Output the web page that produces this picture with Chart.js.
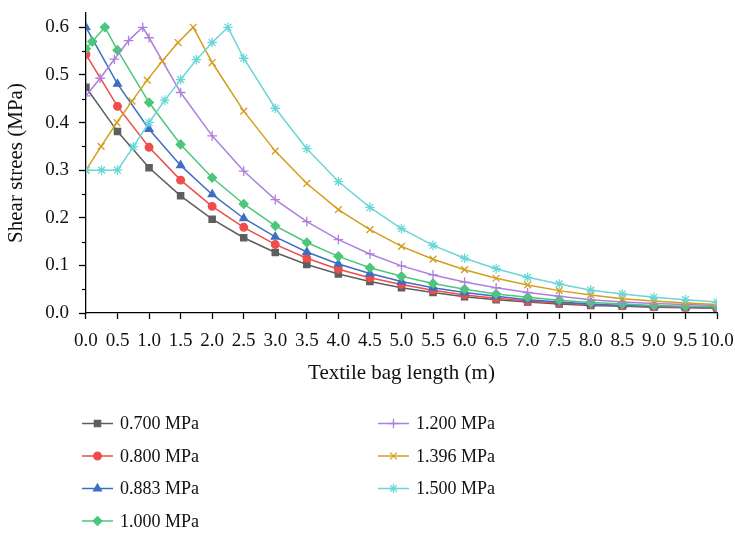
<!DOCTYPE html>
<html>
<head>
<meta charset="utf-8">
<script src="https://cdn.jsdelivr.net/npm/chart.js@4/dist/chart.umd.min.js"></script>
<style>
  html, body { margin: 0; padding: 0; background: #fff; }
  #wrap { width: 735px; height: 537px; position: relative; }
</style>
</head>
<body>
<div id="wrap"><canvas id="chart"></canvas></div>
<script>
// series labels
const seriesLabels = ['0.700 MPa', '0.800 MPa', '0.883 MPa', '1.000 MPa', '1.200 MPa', '1.396 MPa', '1.500 MPa'];

// common x positions for the decay part (m)
const xDecay = [0.5, 1.0, 1.5, 2.0, 2.5, 3.0, 3.5, 4.0, 4.5, 5.0, 5.5, 6.0, 6.5, 7.0, 7.5, 8.0, 8.5, 9.0, 9.5, 10.0];

const x070 = [0.0].concat(xDecay);
const y070 = [0.474, 0.381, 0.305, 0.246, 0.197, 0.158, 0.127, 0.102, 0.082, 0.066, 0.053, 0.043, 0.034, 0.028, 0.023, 0.019, 0.016, 0.014, 0.012, 0.011, 0.010];

const x080 = [0.0].concat(xDecay);
const y080 = [0.543, 0.434, 0.348, 0.279, 0.224, 0.180, 0.144, 0.115, 0.092, 0.074, 0.060, 0.048, 0.038, 0.031, 0.025, 0.021, 0.018, 0.015, 0.013, 0.012, 0.011];

const x0883 = [0.0].concat(xDecay);
const y0883 = [0.600, 0.481, 0.386, 0.310, 0.249, 0.199, 0.160, 0.128, 0.103, 0.083, 0.066, 0.053, 0.043, 0.035, 0.028, 0.023, 0.019, 0.016, 0.014, 0.013, 0.012];

const x100 = [0.0, 0.1, 0.3].concat(xDecay);
const y100 = [0.555, 0.570, 0.600, 0.552, 0.442, 0.354, 0.284, 0.229, 0.183, 0.148, 0.119, 0.095, 0.077, 0.062, 0.050, 0.040, 0.033, 0.027, 0.022, 0.019, 0.016, 0.014, 0.013];

const x120 = [0.0, 0.225, 0.45, 0.675, 0.9].concat(xDecay.slice(1));
const y120 = [0.456, 0.493, 0.533, 0.572, 0.600, 0.578, 0.463, 0.372, 0.298, 0.238, 0.192, 0.154, 0.124, 0.099, 0.080, 0.065, 0.053, 0.043, 0.035, 0.028, 0.023, 0.020, 0.018, 0.016];

const x1396 = [0.0, 0.24, 0.49, 0.73, 0.97, 1.21, 1.46, 1.7].concat(xDecay.slice(3));
const y1396 = [0.300, 0.350, 0.400, 0.445, 0.489, 0.529, 0.568, 0.600, 0.526, 0.424, 0.340, 0.272, 0.217, 0.175, 0.140, 0.113, 0.091, 0.073, 0.059, 0.047, 0.038, 0.030, 0.025, 0.021, 0.018];

const x150 = [0.0, 0.25, 0.5, 0.75, 1.0, 1.25, 1.5, 1.75, 2.0, 2.25].concat(xDecay.slice(4));
const y150 = [0.300, 0.300, 0.300, 0.349, 0.400, 0.447, 0.490, 0.532, 0.568, 0.600, 0.535, 0.430, 0.345, 0.276, 0.222, 0.177, 0.142, 0.115, 0.093, 0.075, 0.061, 0.048, 0.040, 0.033, 0.028, 0.023];

const seriesX = [x070, x080, x0883, x100, x120, x1396, x150];
const seriesY = [y070, y080, y0883, y100, y120, y1396, y150];
const colors = ['#5e5e5e', '#ef4c4c', '#3d6fc1', '#4cc77a', '#ad7fdf', '#d29e1d', '#6ad6d8'];
const pointStyles = ['rect', 'circle', 'triangle', 'rectRot', 'cross', 'crossRot', 'star'];
const pointSizes = [4.4, 3.8, 4.5, 4.4, 4.8, 4.8, 4.8];

const FONT = "'Liberation Serif', 'Times New Roman', serif";

const datasets = seriesLabels.map((label, i) => ({
    label: label,
    data: seriesX[i].map((x, j) => ({ x: x, y: seriesY[i][j] })),
    borderColor: colors[i],
    backgroundColor: colors[i],
    borderWidth: 1.5,
    tension: 0,
    pointStyle: pointStyles[i],
    pointRadius: pointSizes[i],
    pointBorderWidth: 1.3,
    pointBackgroundColor: colors[i],
    pointBorderColor: colors[i],
    order: seriesLabels.length - i
}));

// minor ticks on the y axis (every 0.05)
const minorTicks = {
    id: 'minorTicks',
    afterDraw(chart) {
        const ys = chart.scales.y;
        const ctx = chart.ctx;
        ctx.save();
        ctx.strokeStyle = '#000';
        ctx.lineWidth = 1.2;
        for (let v = 0.05; v < ys.max; v += 0.1) {
            const py = Math.round(ys.getPixelForValue(v)) + 0.5;
            ctx.beginPath();
            ctx.moveTo(ys.right - 4, py);
            ctx.lineTo(ys.right, py);
            ctx.stroke();
        }
        ctx.restore();
    }
};

// two-column legend under the plot
const columnLegend = {
    id: 'columnLegend',
    afterDraw(chart) {
        const ctx = chart.ctx;
        const perCol = 4;
        ctx.save();
        ctx.font = '18px ' + FONT;
        ctx.textBaseline = 'middle';
        chart.data.datasets.forEach((ds, i) => {
            const col = Math.floor(i / perCol);
            const row = i % perCol;
            const x0 = col === 0 ? 82 : 378;
            const y0 = 423.5 + row * 32.5;
            ctx.strokeStyle = ds.borderColor;
            ctx.lineWidth = 1.5;
            ctx.beginPath();
            ctx.moveTo(x0, y0);
            ctx.lineTo(x0 + 31, y0);
            ctx.stroke();
            ctx.fillStyle = ds.backgroundColor;
            ctx.lineWidth = 1.3;
            Chart.helpers.drawPoint(ctx, {
                pointStyle: ds.pointStyle,
                radius: ds.pointRadius,
                rotation: 0,
                borderWidth: 1.3
            }, x0 + 15.5, y0);
            ctx.fillStyle = '#111';
            ctx.fillText(ds.label, x0 + 38, y0 + 1);
        });
        ctx.restore();
    }
};

new Chart(document.getElementById('chart'), {
    type: 'line',
    data: { datasets: datasets },
    options: {
        responsive: true,
        maintainAspectRatio: false,
        animation: false,
        layout: { padding: { top: 13, right: 0, bottom: 151, left: 4 } },
        plugins: {
            legend: { display: false },
            tooltip: { enabled: false }
        },
        scales: {
            x: {
                type: 'linear',
                min: 0,
                max: 10,
                afterFit: scale => { scale.paddingRight = 18; },
                border: { display: true, color: '#000', width: 1.3 },
                grid: { display: true, drawOnChartArea: false, drawTicks: true, tickLength: 6, color: '#000', tickWidth: 1.3 },
                ticks: {
                    stepSize: 0.5,
                    autoSkip: false,
                    maxRotation: 0,
                    padding: 11,
                    color: '#111',
                    font: { family: FONT, size: 19 },
                    callback: v => v.toFixed(1)
                },
                title: {
                    display: true,
                    text: 'Textile bag length (m)',
                    color: '#111',
                    font: { family: FONT, size: 21 },
                    padding: { top: -3, bottom: 0 }
                }
            },
            y: {
                min: 0,
                max: 0.63,
                afterFit: scale => { scale.paddingTop = 0; scale.paddingBottom = 0; },
                border: { display: true, color: '#000', width: 1.3 },
                grid: { display: true, drawOnChartArea: false, drawTicks: true, tickLength: 7, color: '#000', tickWidth: 1.3 },
                ticks: {
                    stepSize: 0.1,
                    includeBounds: false,
                    padding: 10,
                    color: '#111',
                    font: { family: FONT, size: 19 },
                    callback: v => v.toFixed(1)
                },
                title: {
                    display: true,
                    text: 'Shear strees (MPa)',
                    color: '#111',
                    font: { family: FONT, size: 21 },
                    padding: { top: 0, bottom: 6 }
                }
            }
        }
    },
    plugins: [minorTicks, columnLegend]
});
</script>
</body>
</html>
